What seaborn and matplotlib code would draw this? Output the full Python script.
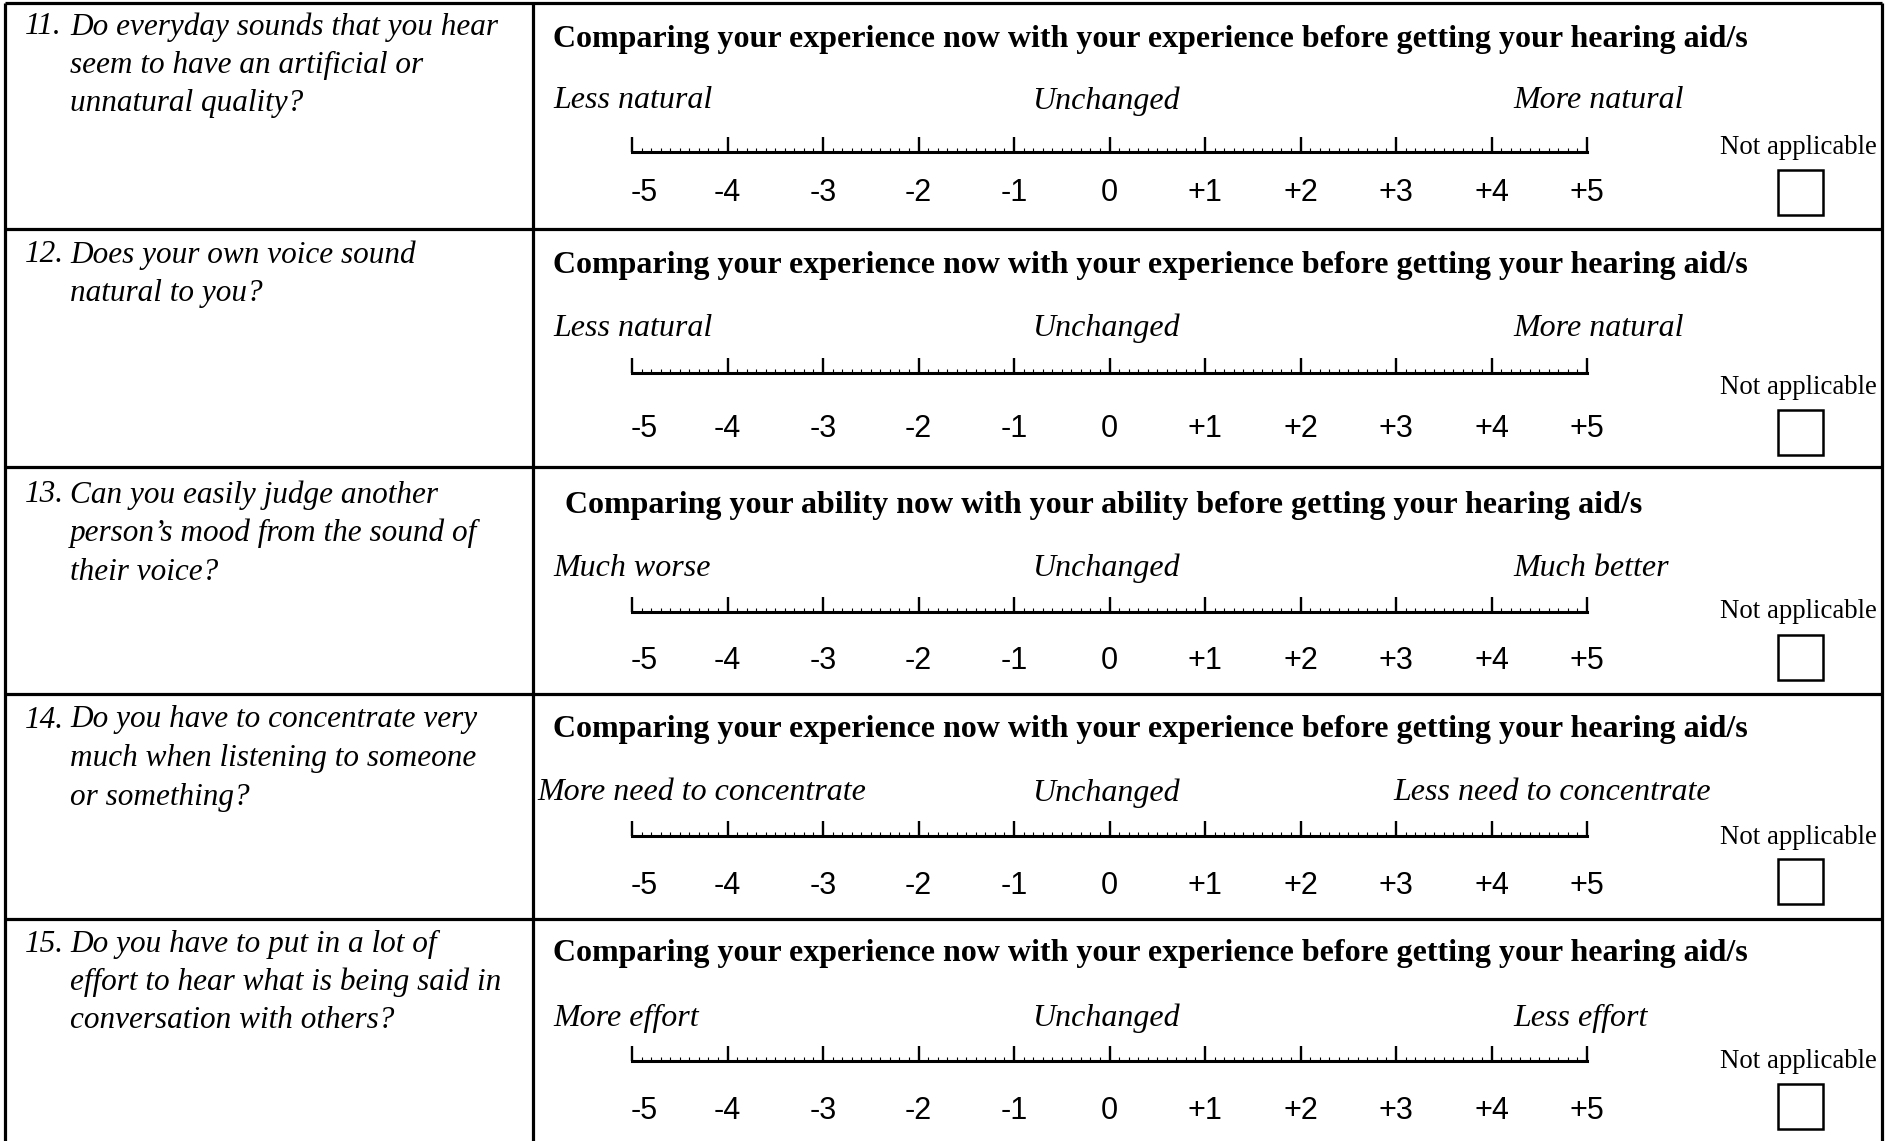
import numpy as np
import matplotlib
matplotlib.use("Agg")
import matplotlib.pyplot as plt
from matplotlib.patches import Rectangle
from matplotlib.ticker import MultipleLocator
from matplotlib.transforms import ScaledTranslation
import seaborn as sns

# ── DATOS DEL CUESTIONARIO ───────────────────────────────────────────────────
NUMBERS = ["11.", "12.", "13.", "14.", "15."]
QUESTIONS = [
    ["Do everyday sounds that you hear", "seem to have an artificial or", "unnatural quality?"],
    ["Does your own voice sound", "natural to you?"],
    ["Can you easily judge another", "person\u2019s mood from the sound of", "their voice?"],
    ["Do you have to concentrate very", "much when listening to someone", "or something?"],
    ["Do you have to put in a lot of", "effort to hear what is being said in", "conversation with others?"],
]
HEADERS = [
    "Comparing your experience now with your experience before getting your hearing aid/s",
    "Comparing your experience now with your experience before getting your hearing aid/s",
    "Comparing your ability now with your ability before getting your hearing aid/s",
    "Comparing your experience now with your experience before getting your hearing aid/s",
    "Comparing your experience now with your experience before getting your hearing aid/s",
]
LEFT_ANCHORS = ["Less natural", "Less natural", "Much worse", "More need to concentrate", "More effort"]
CENTER_ANCHOR = "Unchanged"
RIGHT_ANCHORS = ["More natural", "More natural", "Much better", "Less need to concentrate", "Less effort"]
SCALE = [-5, -4, -3, -2, -1, 0, 1, 2, 3, 4, 5]
SCALE_LABELS = ["-5", "-4", "-3", "-2", "-1", "0", "+1", "+2", "+3", "+4", "+5"]
NA_LABEL = "Not applicable"

# ── LAYOUT (pixeles de la imagen) ────────────────────────────────────────────
W, H = 1889, 1141
ROW_LINES = [229, 467, 694, 919]
LEFT, RIGHT, TOP, DIVIDER = 5, 1882, 3, 533
Q_Y = [27, 255, 495, 720, 944]
Q_STEP = 38.5
HEADER_Y = [39, 265, 505, 730, 954]
HEADER_X = [553, 553, 565, 553, 553]
ANCHOR_Y = [101, 328, 568, 793, 1018]
LEFT_X = [553, 553, 553, 537, 553]
RIGHT_X = [1513, 1513, 1513, 1393, 1513]
RULER_Y = [152, 373, 612, 836, 1061]
LABEL_PAD = [19, 29.5, 24.5, 25.5, 25]
NA_Y = [148, 387, 612, 837, 1062]
BOX_Y = [170, 410, 635, 859, 1084]
RULER_X0, RULER_X1 = 632, 1587

SERIF = ["Liberation Serif", "DejaVu Serif"]
SANS = ["Liberation Sans", "DejaVu Sans"]

sns.set_theme(style="white")
plt.rcParams["font.family"] = SERIF
plt.rcParams["text.color"] = "black"
plt.rcParams["xtick.color"] = "black"
plt.rcParams["xtick.labelcolor"] = "black"

fig = plt.figure(figsize=(W / 100, H / 100), dpi=100)
fig.patch.set_facecolor("white")
ax = fig.add_axes([0, 0, 1, 1])
ax.set_xlim(0, W)
ax.set_ylim(H, 0)
ax.axis("off")

# bordes de la tabla
lw = 2.3
ax.vlines([LEFT, RIGHT, DIVIDER], TOP, H, colors="black", linewidth=lw)
ax.hlines([TOP] + ROW_LINES, LEFT, RIGHT, colors="black", linewidth=lw)

for i in range(len(QUESTIONS)):
    # pregunta
    ax.text(25, Q_Y[i], NUMBERS[i], fontsize=22.5, style="italic", va="center", ha="left")
    for k, line in enumerate(QUESTIONS[i]):
        ax.text(70, Q_Y[i] + k * Q_STEP, line, fontsize=22.5, style="italic", va="center", ha="left")

    # encabezado y anclas
    ax.text(HEADER_X[i], HEADER_Y[i], HEADERS[i], fontsize=23, weight="bold", va="center", ha="left")
    ax.text(LEFT_X[i], ANCHOR_Y[i], LEFT_ANCHORS[i], fontsize=23, style="italic", va="center", ha="left")
    ax.text(1106, ANCHOR_Y[i], CENTER_ANCHOR, fontsize=23, style="italic", va="center", ha="center")
    ax.text(RIGHT_X[i], ANCHOR_Y[i], RIGHT_ANCHORS[i], fontsize=23, style="italic", va="center", ha="left")

    # no aplica + casilla
    ax.text(1798, NA_Y[i], NA_LABEL, fontsize=19.3, va="center", ha="center")
    ax.add_patch(Rectangle((1778, BOX_Y[i]), 45, 45, fill=False, edgecolor="black", linewidth=1.8))

    # regla de -5 a +5
    axr = fig.add_axes([RULER_X0 / W, 1 - RULER_Y[i] / H, (RULER_X1 - RULER_X0) / W, 20 / H])
    axr.set_xlim(SCALE[0], SCALE[-1])
    axr.set_ylim(0, 1)
    axr.patch.set_alpha(0)
    sns.despine(ax=axr, left=True)
    axr.spines["bottom"].set_linewidth(2.2)
    axr.spines["bottom"].set_color("black")
    axr.set_yticks([])
    axr.set_xticks(SCALE)
    axr.set_xticklabels(SCALE_LABELS, fontfamily=SANS, fontsize=22, color="black")
    axr.xaxis.set_minor_locator(MultipleLocator(0.1))
    axr.tick_params(axis="x", which="major", direction="in", length=10.5, width=1.7,
                    color="black", pad=LABEL_PAD[i], bottom=True)
    axr.tick_params(axis="x", which="minor", direction="in", length=3, width=0.8,
                    color="black", bottom=True)
    # el "-5" del original queda algo a la derecha de su marca
    first = axr.xaxis.get_major_ticks()[0].label1
    first.set_transform(first.get_transform() + ScaledTranslation(0.12, 0, fig.dpi_scale_trans))

fig.savefig("out.png", dpi=100, facecolor="white")
